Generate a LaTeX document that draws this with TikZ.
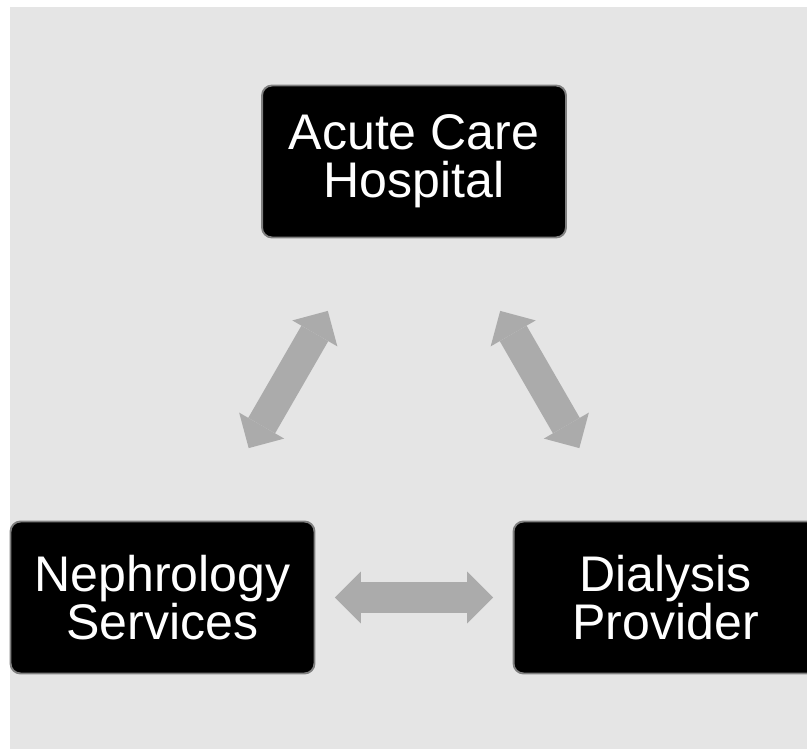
\documentclass[tikz,border=0pt]{standalone}
\usepackage{fontspec}
\setmainfont{Liberation Sans}
\usetikzlibrary{arrows.meta}
\definecolor{panel}{HTML}{E5E5E5}
\definecolor{linkgray}{HTML}{ABABAB}
\definecolor{edgegray}{HTML}{7F7F7F}
\begin{document}
\begin{tikzpicture}
[x=0.02cm,y=-0.02cm,
party/.style={draw=edgegray,line width=1.1pt,fill=black,text=white,rounded corners=0.2cm,
	minimum width=6.08cm,minimum height=3.04cm,align=center,inner sep=0pt},
link/.style={draw=linkgray,line width=0.62cm,
	{Triangle[length=0.52cm,width=1.04cm,line width=0pt]}-{Triangle[length=0.52cm,width=1.04cm,line width=0pt]},
	shorten <=3.45cm,shorten >=3.45cm}]
\fontsize{28.5pt}{27.5pt}\selectfont
\useasboundingbox (0,0) rectangle (807,749);
\fill[panel] (10,7) rectangle (807,749);
\node[party] (acute) at (414,161.5) {Acute Care\\Hospital};
\node[party] (nephro) at (162.5,597.5) {Nephrology\\Services};
\node[party] (dialysis) at (665.5,597.5) {Dialysis\\Provider};
\draw[link] (nephro.center) -- (acute.center);
\draw[link] (acute.center) -- (dialysis.center);
\draw[link] (nephro.center) -- (dialysis.center);
\end{tikzpicture}
\end{document}
